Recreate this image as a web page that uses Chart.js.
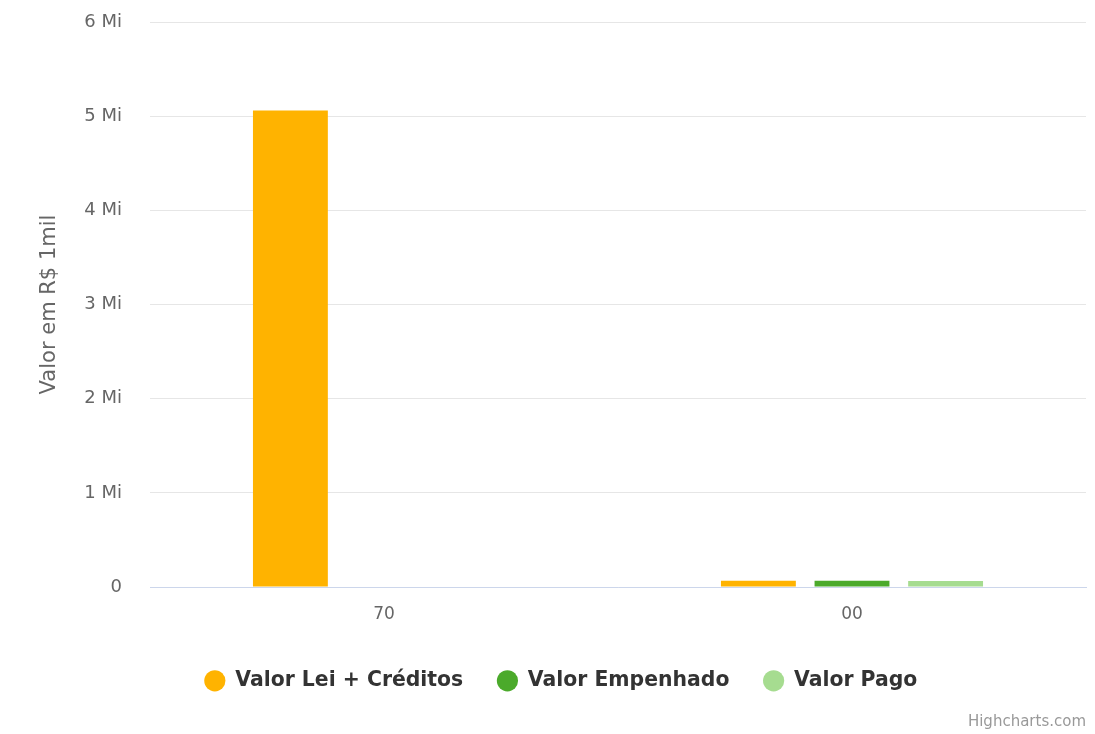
<!DOCTYPE html>
<html>
<head>
<meta charset="utf-8">
<script src="https://cdn.jsdelivr.net/npm/chart.js@4/dist/chart.umd.min.js"></script>
<style>
html,body{margin:0;padding:0;background:#ffffff;}
#wrap{position:relative;width:1095px;height:734px;}
</style>
</head>
<body>
<div id="wrap"><canvas id="c" width="1095" height="734"></canvas></div>
<script>
const categories = ['70', '00'];
const valorLeiCreditos = [5060000, 66000];
const valorEmpenhado = [0, 66000];
const valorPago = [0, 64000];
const yTickValues = [0, 1000000, 2000000, 3000000, 4000000, 5000000, 6000000];
const yTickLabels = ['0', '1 Mi', '2 Mi', '3 Mi', '4 Mi', '5 Mi', '6 Mi'];
const seriesNames = ['Valor Lei + Créditos', 'Valor Empenhado', 'Valor Pago'];

const PAD_LEFT = 36, PLOT_LEFT = 150, PLOT_BOTTOM = 587, PAD_BOTTOM = 33;

const creditPlugin = {
  id: 'credit',
  afterDraw(chart) {
    const ctx = chart.ctx;
    ctx.save();
    ctx.font = '15px "DejaVu Sans", sans-serif';
    ctx.fillStyle = '#999999';
    ctx.textAlign = 'right';
    ctx.textBaseline = 'middle';
    ctx.fillText('Highcharts.com', 1086, 722);
    ctx.restore();
  }
};

new Chart(document.getElementById('c'), {
  type: 'bar',
  data: {
    labels: categories,
    datasets: [
      { label: seriesNames[0], data: valorLeiCreditos, backgroundColor: '#FFB300' },
      { label: seriesNames[1], data: valorEmpenhado, backgroundColor: '#4BAA2B' },
      { label: seriesNames[2], data: valorPago, backgroundColor: '#A6DC90' }
    ]
  },
  options: {
    responsive: false,
    animation: false,
    devicePixelRatio: 1,
    categoryPercentage: 0.6,
    barPercentage: 0.8,
    layout: { padding: { left: PAD_LEFT, right: 9, top: 22, bottom: PAD_BOTTOM } },
    plugins: {
      tooltip: { enabled: false },
      legend: {
        position: 'bottom',
        labels: {
          usePointStyle: true,
          pointStyle: 'circle',
          boxWidth: 21,
          boxHeight: 15,
          padding: 34,
          color: '#333333',
          font: { family: '"DejaVu Sans", sans-serif', size: 20.4, weight: 'bold' }
        }
      }
    },
    scales: {
      x: {
        grid: { display: false, drawTicks: false },
        border: { display: true, color: '#ccd6eb', width: 1 },
        ticks: {
          color: '#666666',
          padding: 17,
          font: { family: '"DejaVu Sans", sans-serif', size: 17 }
        },
        afterFit(s) {
          s.height = s.chart.height - PAD_BOTTOM - s.chart.legend.height - PLOT_BOTTOM;
        }
      },
      y: {
        min: 0,
        max: 6000000,
        afterBuildTicks(s) { s.ticks = yTickValues.map(v => ({ value: v })); },
        grid: { color: '#e6e6e6', drawTicks: true, tickLength: 28, tickColor: 'rgba(0,0,0,0)', lineWidth: 1 },
        border: { display: false },
        ticks: {
          color: '#666666',
          padding: 0,
          font: { family: '"DejaVu Sans", sans-serif', size: 18 },
          callback(v) { const i = yTickValues.indexOf(v); return i >= 0 ? yTickLabels[i] : ''; }
        },
        title: {
          display: true,
          text: 'Valor em R$ 1mil',
          color: '#666666',
          padding: { top: 1, bottom: 0 },
          font: { family: '"DejaVu Sans", sans-serif', size: 21 }
        },
        afterFit(s) { s.width = PLOT_LEFT - PAD_LEFT; }
      }
    }
  },
  plugins: [creditPlugin]
});
</script>
</body>
</html>
